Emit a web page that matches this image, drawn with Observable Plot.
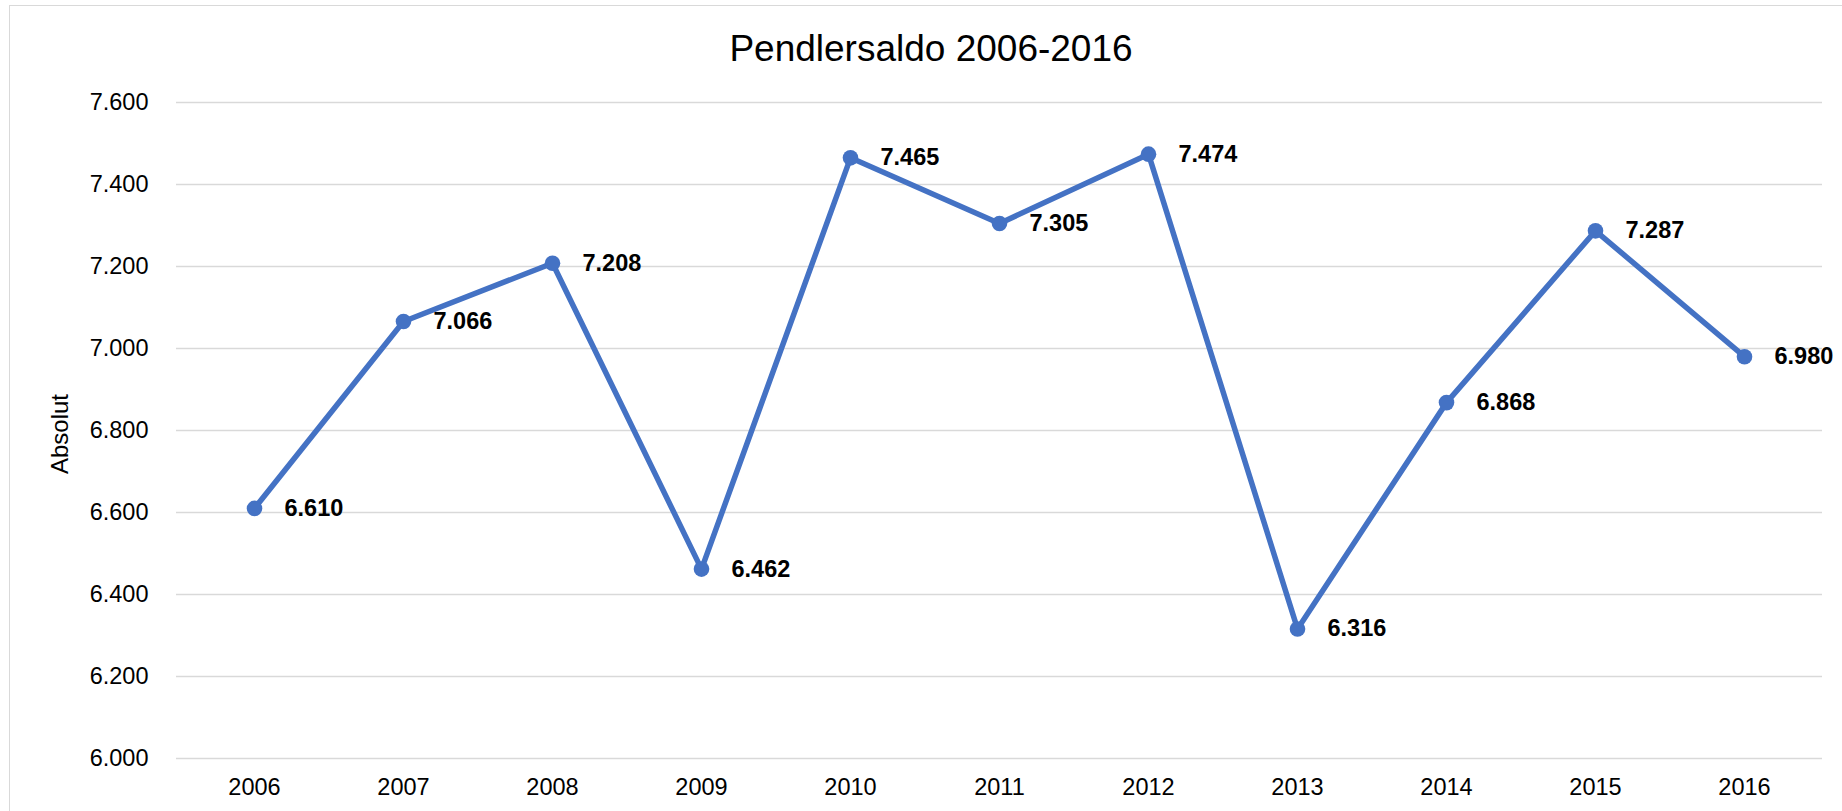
<!DOCTYPE html>
<html>
<head>
<meta charset="utf-8">
<script src="https://cdn.jsdelivr.net/npm/d3@7"></script>
<script src="https://cdn.jsdelivr.net/npm/@observablehq/plot@0.6"></script>
<style>
  body { margin: 0; background: #fff; font-family: "Liberation Sans", Arial, sans-serif; }
  #wrap { position: relative; width: 1842px; height: 811px; overflow: hidden; background: #fff; }
  #frame { position: absolute; left: 9px; top: 5px; width: 2000px; height: 1000px; border: 1.5px solid #d9d9d9; }
  #title { position: absolute; left: 0; width: 1862px; top: 30px; text-align: center; font-size: 37px; line-height: 37px; color: #000; }
  #ylabel { position: absolute; left: 60px; top: 434px; transform: translate(-50%, -50%) rotate(-90deg); font-size: 24px; line-height: 24px; color: #000; white-space: nowrap; }
  #chart { position: absolute; left: 0; top: 0; }
</style>
</head>
<body>
<div id="wrap">
  <div id="frame"></div>
  <div id="chart"></div>
  <div id="title">Pendlersaldo 2006-2016</div>
  <div id="ylabel"></div>
</div>
<script>
const years = ["2006","2007","2008","2009","2010","2011","2012","2013","2014","2015","2016"];
const values = [6610, 7066, 7208, 6462, 7465, 7305, 7474, 6316, 6868, 7287, 6980];
const yTicks = [6000, 6200, 6400, 6600, 6800, 7000, 7200, 7400, 7600];
const yLabel = "Absolut";

document.getElementById("ylabel").textContent = yLabel;

const data = years.map((y, i) => ({year: y, value: values[i]}));
const de = d3.formatLocale({decimal: ",", thousands: ".", grouping: [3], currency: ["", " €"]});
const fmt = de.format(",d");
const blue = "#4472C4";

const chart = Plot.plot({
  width: 1842,
  height: 811,
  marginLeft: 176,
  marginRight: 20,
  marginTop: 102,
  marginBottom: 53,
  style: { fontFamily: "'Liberation Sans', Arial, sans-serif", fontSize: "23.5px", color: "#000", background: "transparent", overflow: "visible" },
  x: { type: "point", domain: years, padding: 0.5 },
  y: { domain: [6000, 7600] },
  marks: [
    Plot.gridY(yTicks, { stroke: "#d9d9d9", strokeOpacity: 1, strokeWidth: 1.4 }),
    Plot.axisX({ tickSize: 0, tickPadding: 20, label: null, fill: "#000", fontSize: 23.5 }),
    Plot.axisY(yTicks, { tickSize: 0, tickPadding: 28, label: null, tickFormat: fmt, fill: "#000", fontSize: 23.5 }),
    Plot.line(data, { x: "year", y: "value", stroke: blue, strokeWidth: 5.5, strokeLinejoin: "round", strokeLinecap: "round" }),
    Plot.dot(data, { x: "year", y: "value", r: 7.8, fill: blue, stroke: "none" }),
    Plot.text(data, { x: "year", y: "value", text: d => fmt(d.value), dx: 30, textAnchor: "start", fontWeight: "bold", fontSize: 23.5, fill: "#000" })
  ]
});
document.getElementById("chart").appendChild(chart);
</script>
</body>
</html>
